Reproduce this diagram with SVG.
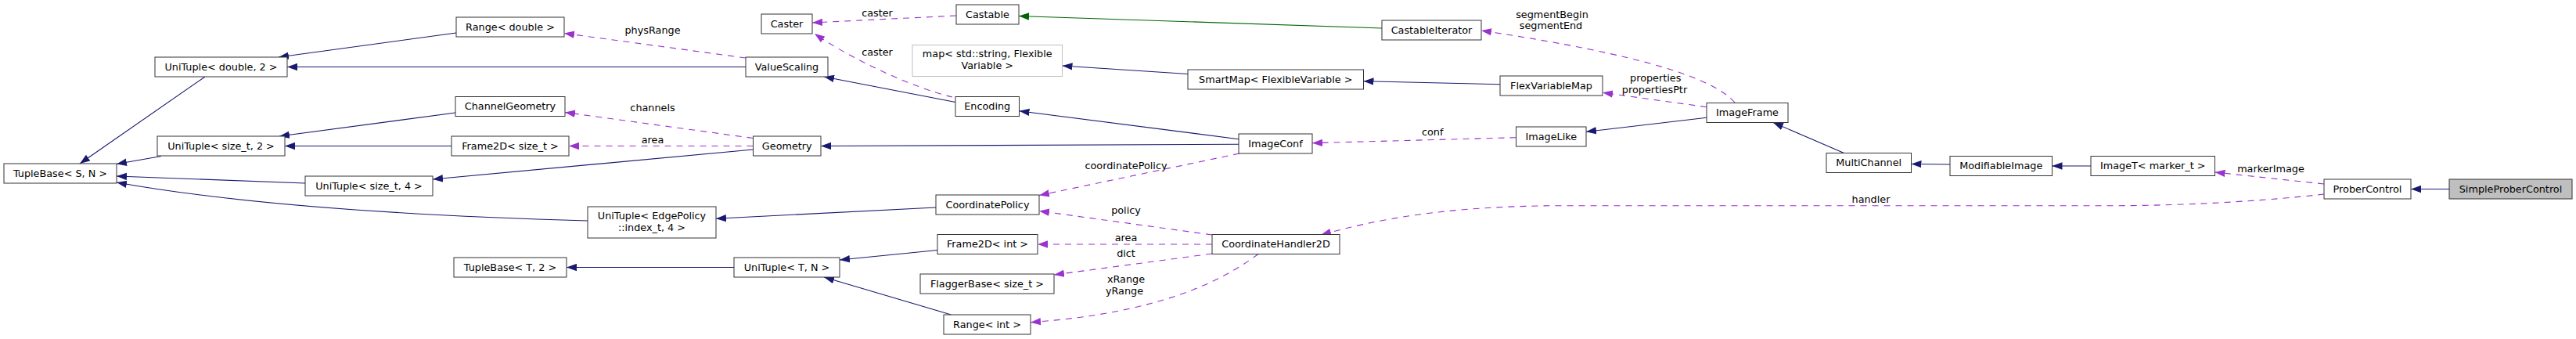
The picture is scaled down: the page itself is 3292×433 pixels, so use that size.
<svg xmlns="http://www.w3.org/2000/svg" width="3292" height="433" viewBox="0 0 3292 433">
<style>
.n rect{fill:#fff;stroke:#333;stroke-width:1}
.n.g rect{stroke:#bfbfbf}
.n.h rect{fill:#bfbfbf}
text{font-family:"DejaVu Sans","Liberation Sans",sans-serif;font-size:12.8px;fill:#000;text-anchor:middle}
.e path{fill:none;stroke-width:1.1}
.i{stroke:#191970;marker-end:url(#ab)}
.u{stroke:#9a32cd;stroke-dasharray:8,7;marker-end:url(#ap)}
.t{stroke:#006400;marker-end:url(#ag)}
</style>
<defs>
<marker id="ab" markerUnits="userSpaceOnUse" viewBox="0 0 13 10" markerWidth="13" markerHeight="10" refX="13" refY="5" orient="auto"><path d="M0,0.3L13,5L0,9.7z" fill="#191970"/></marker>
<marker id="ap" markerUnits="userSpaceOnUse" viewBox="0 0 13 10" markerWidth="13" markerHeight="10" refX="13" refY="5" orient="auto"><path d="M0,0.3L13,5L0,9.7z" fill="#9a32cd"/></marker>
<marker id="ag" markerUnits="userSpaceOnUse" viewBox="0 0 13 10" markerWidth="13" markerHeight="10" refX="13" refY="5" orient="auto"><path d="M0,0.3L13,5L0,9.7z" fill="#006400"/></marker>
</defs>
<rect width="3292" height="433" fill="#fff"/>
<g id="connectors" class="e">
<path class="i" d="M262,98L102,209"/>
<path class="i" d="M206,199.5L149,209.5"/>
<path class="i" d="M390,234L149,225"/>
<path class="i" d="M751,282C500,275 300,260 149,233"/>
<path class="i" d="M583,42L356,73"/>
<path class="i" d="M953,85.5L367,85.5"/>
<path class="i" d="M582,144L357,174"/>
<path class="i" d="M577,186.5L364,186.5"/>
<path class="i" d="M962.5,191L553,229"/>
<path class="u" d="M962.5,176.5L722,143.5"/>
<path class="u" d="M962.5,186.5L727,186.5"/>
<path class="u" d="M953,74L721,42.5"/>
<path class="i" d="M1221,130.5L1053,98"/>
<path class="u" d="M1217,124C1170,113 1090,77 1041,43"/>
<path class="u" d="M1222,20L1038,29"/>
<path class="t" d="M1766,36L1302,20.5"/>
<path class="i" d="M1518,94.5L1357.5,84"/>
<path class="i" d="M1917,107.7L1742.5,103.7"/>
<path class="i" d="M1583,177.7L1302.5,141.7"/>
<path class="i" d="M1583,184.3L1049,186.5"/>
<path class="u" d="M1584,196L1328,249.5"/>
<path class="u" d="M1937.5,175.7L1677,182.7"/>
<path class="i" d="M2181,150.3L2027,168.3"/>
<path class="u" d="M2181,136.7L2048,118.3"/>
<path class="u" d="M2217,131C2190,100 2100,70 1893,39"/>
<path class="i" d="M2356.5,195.5L2266,156.5"/>
<path class="i" d="M2492,210L2442.5,209.5"/>
<path class="i" d="M2672,212L2622.5,212"/>
<path class="u" d="M2970,235L2830.5,220"/>
<path class="u" d="M2970,248C2900,256 2800,262.7 2700,262.7L2000,262.7C1850,262.7 1760,280 1688,300"/>
<path class="i" d="M3130,241.5L3081,241.5"/>
<path class="u" d="M1549,300L1328,269.5"/>
<path class="u" d="M1549,312L1326,312"/>
<path class="u" d="M1549,324L1347,351"/>
<path class="u" d="M1608,324.5C1560,360 1480,400 1317,411.7"/>
<path class="i" d="M1198,319.5L1073,332"/>
<path class="i" d="M1215.5,402L1053,354"/>
<path class="i" d="M938,341.5L724,341.5"/>
<path class="i" d="M1196,265L915,279.3"/>
</g>
<g id="edge-labels">
<text x="834" y="43.3">physRange</text>
<text x="834" y="142.3">channels</text>
<text x="834" y="183.3">area</text>
<text x="1121" y="21">caster</text>
<text x="1121" y="71">caster</text>
<text x="1439" y="216">coordinatePolicy</text>
<text x="1439" y="272.8">policy</text>
<text x="1439" y="307.8">area</text>
<text x="1439" y="327.6">dict</text>
<text x="1439" y="361">xRange</text>
<text x="1437" y="376">yRange</text>
<text x="1830.7" y="172.6">conf</text>
<text x="1983.5" y="23.3">segmentBegin</text>
<text x="1982" y="36.8">segmentEnd</text>
<text x="2115.7" y="104.3">properties</text>
<text x="2114.5" y="118.8">propertiesPtr</text>
<text x="2391" y="258.6">handler</text>
<text x="2902" y="220">markerImage</text>
</g>
<g id="TupleBaseSN" class="n"><rect x="5" y="209" width="144" height="25"/><text x="77" y="225.8">TupleBase&lt; S, N &gt;</text></g>
<g id="UniTupleDouble2" class="n"><rect x="198" y="73" width="169" height="25"/><text x="282.5" y="89.8">UniTuple&lt; double, 2 &gt;</text></g>
<g id="UniTupleSize2" class="n"><rect x="201" y="174" width="163" height="25"/><text x="282.5" y="190.8">UniTuple&lt; size_t, 2 &gt;</text></g>
<g id="UniTupleSize4" class="n"><rect x="390" y="225" width="163" height="25"/><text x="471.5" y="241.8">UniTuple&lt; size_t, 4 &gt;</text></g>
<g id="RangeDouble" class="n"><rect x="583" y="22" width="138" height="25"/><text x="652" y="38.8">Range&lt; double &gt;</text></g>
<g id="ChannelGeometry" class="n"><rect x="582" y="123.5" width="140" height="25"/><text x="652" y="140.3">ChannelGeometry</text></g>
<g id="Frame2DSize" class="n"><rect x="577" y="174" width="150" height="25"/><text x="652" y="190.8">Frame2D&lt; size_t &gt;</text></g>
<g id="UniTupleEdgePolicy" class="n"><rect x="751" y="264" width="164" height="40"/><text x="833" y="279.6">UniTuple&lt; EdgePolicy</text><text x="833" y="294.6">::index_t, 4 &gt;</text></g>
<g id="TupleBaseT2" class="n"><rect x="580" y="329" width="144" height="25"/><text x="652" y="345.8">TupleBase&lt; T, 2 &gt;</text></g>
<g id="Caster" class="n"><rect x="973" y="18" width="65" height="25"/><text x="1005.5" y="34.8">Caster</text></g>
<g id="ValueScaling" class="n"><rect x="953" y="73" width="105" height="25"/><text x="1005.5" y="89.8">ValueScaling</text></g>
<g id="Geometry" class="n"><rect x="962.5" y="174" width="86.5" height="25"/><text x="1005.75" y="190.8">Geometry</text></g>
<g id="UniTupleTN" class="n"><rect x="938" y="329" width="135" height="25"/><text x="1005.5" y="345.8">UniTuple&lt; T, N &gt;</text></g>
<g id="Castable" class="n"><rect x="1222" y="6" width="80" height="25"/><text x="1262" y="22.8">Castable</text></g>
<g id="MapStringFlexible" class="n g"><rect x="1166" y="57.5" width="191.5" height="40"/><text x="1261.75" y="72.6">map&lt; std::string, Flexible</text><text x="1261.75" y="87.6">Variable &gt;</text></g>
<g id="Encoding" class="n"><rect x="1221" y="123.5" width="81.5" height="25"/><text x="1261.75" y="140.3">Encoding</text></g>
<g id="CoordinatePolicy" class="n"><rect x="1196" y="249" width="132" height="25"/><text x="1262" y="265.8">CoordinatePolicy</text></g>
<g id="Frame2DInt" class="n"><rect x="1198" y="299.5" width="128" height="25"/><text x="1262" y="316.3">Frame2D&lt; int &gt;</text></g>
<g id="FlaggerBaseSize" class="n"><rect x="1176" y="350" width="171" height="25"/><text x="1261.5" y="366.8">FlaggerBase&lt; size_t &gt;</text></g>
<g id="RangeInt" class="n"><rect x="1206" y="402" width="111" height="25"/><text x="1261.5" y="418.8">Range&lt; int &gt;</text></g>
<g id="SmartMapFlexibleVariable" class="n"><rect x="1518" y="89" width="224.5" height="25"/><text x="1630.25" y="105.8">SmartMap&lt; FlexibleVariable &gt;</text></g>
<g id="ImageConf" class="n"><rect x="1583" y="171" width="94" height="25"/><text x="1630" y="187.8">ImageConf</text></g>
<g id="CoordinateHandler2D" class="n"><rect x="1549" y="299.5" width="163" height="25"/><text x="1630.5" y="316.3">CoordinateHandler2D</text></g>
<g id="CastableIterator" class="n"><rect x="1766" y="26" width="127" height="25"/><text x="1829.5" y="42.8">CastableIterator</text></g>
<g id="FlexVariableMap" class="n"><rect x="1917" y="97" width="131" height="25"/><text x="1982.5" y="113.8">FlexVariableMap</text></g>
<g id="ImageLike" class="n"><rect x="1937.5" y="162" width="89.5" height="25"/><text x="1982.25" y="178.8">ImageLike</text></g>
<g id="ImageFrame" class="n"><rect x="2181" y="131.5" width="104" height="25"/><text x="2233" y="148.3">ImageFrame</text></g>
<g id="MultiChannel" class="n"><rect x="2334" y="195.5" width="108.5" height="25"/><text x="2388.25" y="212.3">MultiChannel</text></g>
<g id="ModifiableImage" class="n"><rect x="2492" y="199.5" width="130.5" height="25"/><text x="2557.25" y="216.3">ModifiableImage</text></g>
<g id="ImageTMarker" class="n"><rect x="2672" y="199.5" width="158.5" height="25"/><text x="2751.25" y="216.3">ImageT&lt; marker_t &gt;</text></g>
<g id="ProberControl" class="n"><rect x="2970" y="229" width="111" height="25"/><text x="3025.5" y="245.8">ProberControl</text></g>
<g id="SimpleProberControl" class="n h"><rect x="3130" y="229" width="157" height="25"/><text x="3208.5" y="245.8">SimpleProberControl</text></g>
</svg>
